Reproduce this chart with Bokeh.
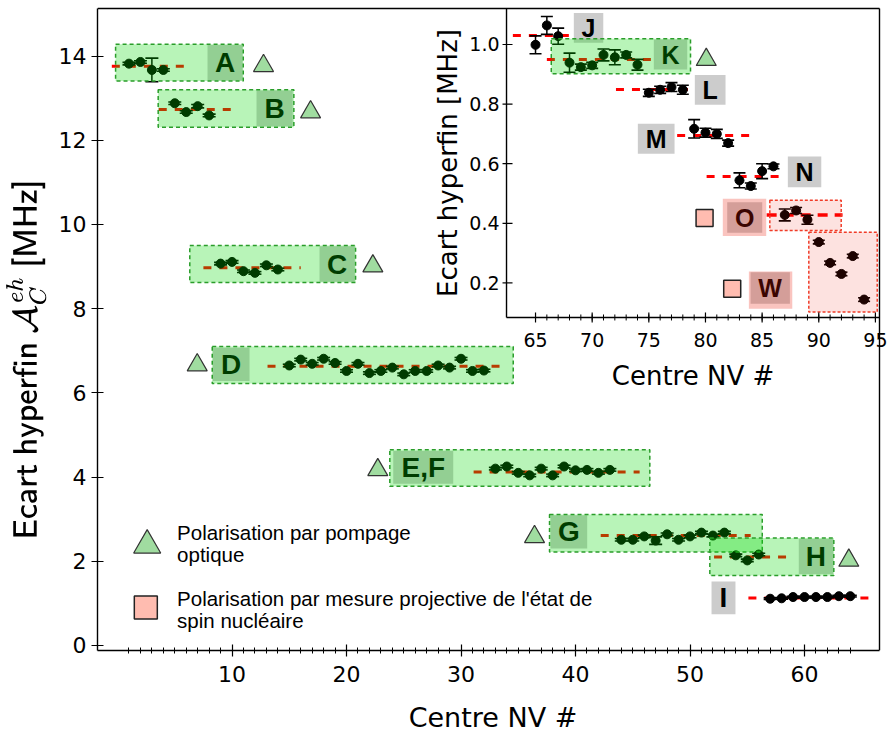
from math import pi
from bokeh.plotting import figure
from bokeh.models import Range1d, FixedTicker, TeX
from bokeh.core.properties import value
from bokeh.embed import file_html
from bokeh.resources import INLINE

# ---------------- main panel data (NV centre #, hyperfine splitting MHz) ----------------
main_labels = ["A", "B", "C", "D", "E,F", "G", "H", "I"]
nv_A = [1, 2, 3, 4]
hf_A = [13.82, 13.86, 13.67, 13.67]
err_A = [0.03, 0.03, 0.28, 0.03]
nv_B = [5, 6, 7, 8]
hf_B = [12.88, 12.67, 12.81, 12.59]
err_B = [0.03, 0.03, 0.04, 0.03]
nv_C = [9, 10, 11, 12, 13, 14]
hf_C = [9.07, 9.11, 8.89, 8.85, 9.03, 8.93]
err_C = [0.03, 0.03, 0.03, 0.03, 0.03, 0.03]
nv_D = list(range(15, 33))
hf_D = [6.65, 6.79, 6.69, 6.81, 6.71, 6.52, 6.69, 6.47, 6.52,
        6.60, 6.44, 6.52, 6.52, 6.65, 6.60, 6.81, 6.52, 6.53]
err_D = [0.03] * 18
nv_EF = list(range(33, 44))
hf_EF = [4.20, 4.25, 4.10, 4.04, 4.20, 4.04, 4.25, 4.16, 4.17, 4.10, 4.17]
err_EF = [0.03] * 11
nv_G = list(range(44, 54))
hf_G = [2.51, 2.51, 2.59, 2.49, 2.64, 2.51, 2.59, 2.68, 2.61, 2.68]
err_G = [0.03, 0.03, 0.03, 0.09, 0.03, 0.03, 0.03, 0.03, 0.03, 0.03]
nv_H = [54, 55, 56]
hf_H = [2.14, 2.02, 2.16]
err_H = [0.03, 0.03, 0.03]
nv_I = list(range(57, 65))
hf_I = [1.11, 1.12, 1.15, 1.15, 1.15, 1.15, 1.17, 1.17]
err_I = [0.02] * 8
mean_main = [13.76, 12.73, 8.97, 6.63, 4.12, 2.61, 2.10, 1.13]

main_xticks = [10, 20, 30, 40, 50, 60]
main_yticks = [0, 2, 4, 6, 8, 10, 12, 14]

# ---------------- inset data ----------------
inset_labels = ["J", "K", "L", "M", "N", "O", "W"]
nv_J = [65, 66, 67]
hf_J = [0.999, 1.064, 1.028]
err_J = [0.030, 0.030, 0.027]
nv_K = [68, 69, 70, 71, 72, 73, 74]
hf_K = [0.939, 0.924, 0.930, 0.965, 0.957, 0.965, 0.932]
err_K = [0.032, 0.010, 0.010, 0.020, 0.025, 0.010, 0.018]
nv_L = [75, 76, 77, 78]
hf_L = [0.838, 0.848, 0.857, 0.848]
err_L = [0.012, 0.012, 0.015, 0.015]
nv_M = [79, 80, 81, 82]
hf_M = [0.717, 0.704, 0.700, 0.669]
err_M = [0.031, 0.015, 0.015, 0.010]
nv_N = [83, 84, 85, 86]
hf_N = [0.544, 0.525, 0.575, 0.591]
err_N = [0.025, 0.010, 0.025, 0.008]
nv_O = [87, 88, 89]
hf_O = [0.428, 0.443, 0.412]
err_O = [0.020, 0.010, 0.015]
nv_W = [90, 91, 92, 93, 94]
hf_W = [0.337, 0.267, 0.230, 0.290, 0.144]
err_W = [0.006, 0.006, 0.006, 0.006, 0.006]
mean_inset = [1.030, 0.950, 0.849, 0.695, 0.557, 0.428]

inset_xticks = [65, 70, 75, 80, 85, 90, 95]
inset_xminor = list(range(65, 96))
inset_yticks = [0.2, 0.4, 0.6, 0.8, 1.0]

legend_texts = ["Polarisation par pompage", "optique",
                "Polarisation par mesure projective de l'état de", "spin nucléaire"]
xlabel = "Centre NV #"
main_ylabel = r"\textsf{Ecart hyperfin }\mathcal{A}_C^{eh}\textsf{ [MHz]}\qquad"
inset_ylabel = "Ecart hyperfin [MHz]"

# ---------------- styles ----------------
GREEN_FILL = "#00d700"
GREEN_ALPHA = 0.28
GREEN_LINE = "#2a9d2a"
PINK_FILL = "#eb1400"
TRI_FILL = "#a0dca0"
SQ_FILL = "#ffbcb0"
GRAY = "#cccccc"
LAB_FONT = value("Liberation Sans")
AX_FONT = "DejaVu Sans"

# main plot box (data coords) and inset box (inset data coords)
MX0, MX1, MY0, MY1 = -1.75, 66.55, -0.12, 15.13
IX0, IX1 = 62.44, 95.36
IY0, IY1 = 0.0839, 1.1208
IPX_X = 11.33   # px per NV unit in inset
IPX_Y = 298.0   # px per MHz in inset


def draw_points(p, nv, hf, err, cap=13, size=9, **kw):
    lo = [h - e for h, e in zip(hf, err)]
    hi = [h + e for h, e in zip(hf, err)]
    p.segment(x0=nv, y0=lo, x1=nv, y1=hi, line_color="black", line_width=1.5, **kw)
    p.scatter(nv, lo, marker="dash", size=cap, line_color="black", line_width=1.6, **kw)
    p.scatter(nv, hi, marker="dash", size=cap, line_color="black", line_width=1.6, **kw)
    p.scatter(nv, hf, marker="circle", size=size, fill_color="black", line_color="black", **kw)


# ================= FIGURE =================
# frame spans to the page's top/right edges so inset tick labels are not clipped;
# the visible box is drawn with its own lines
p = figure(frame_width=791, frame_height=650,
           x_range=Range1d(MX0, 67.336), y_range=Range1d(MY0, 15.32),
           min_border_left=97, min_border_right=0, min_border_top=0, min_border_bottom=88,
           output_backend="svg", toolbar_location=None)
p.extra_x_ranges = {"ix": Range1d(26.34, 96.154)}
p.extra_y_ranges = {"iy": Range1d(-1.0336, 1.1476)}
p.outline_line_color = None
p.background_fill_color = "white"
p.border_fill_color = "white"
p.xgrid.visible = False
p.ygrid.visible = False

p.xaxis.ticker = FixedTicker(ticks=main_xticks, minor_ticks=list(range(1, 65)))
p.yaxis.ticker = FixedTicker(ticks=main_yticks, minor_ticks=[])
p.xaxis.bounds = (MX0, MX1)
p.yaxis.bounds = (MY0, MY1)
p.xaxis.axis_label = xlabel
p.yaxis.axis_label = TeX(main_ylabel)
for ax in (p.xaxis[0], p.yaxis[0]):
    ax.major_label_text_font = AX_FONT
    ax.major_label_text_font_size = "22px"
    ax.major_label_text_color = "black"
    ax.axis_label_text_font = AX_FONT
    ax.axis_label_text_font_size = "27px"
    ax.axis_label_text_font_style = "normal"
    ax.axis_label_text_color = "black"
    ax.axis_line_color = "black"
    ax.axis_line_width = 1.4
    ax.major_tick_line_color = "black"
    ax.major_tick_line_width = 1.2
    ax.minor_tick_line_color = "black"
    ax.minor_tick_line_width = 1.0
p.yaxis.axis_label_text_font_size = "26px"
p.xaxis.major_tick_in = 6
p.xaxis.major_tick_out = 6
p.xaxis.minor_tick_in = 3
p.xaxis.minor_tick_out = 3
p.yaxis.major_tick_in = 6
p.yaxis.major_tick_out = 6
p.xaxis.major_label_standoff = 9
p.xaxis.axis_label_standoff = 17
p.yaxis.major_label_standoff = 5
p.yaxis.axis_label_standoff = 9

main_nv = [nv_A, nv_B, nv_C, nv_D, nv_EF, nv_G, nv_H, nv_I]
main_hf = [hf_A, hf_B, hf_C, hf_D, hf_EF, hf_G, hf_H, hf_I]
main_err = [err_A, err_B, err_C, err_D, err_EF, err_G, err_H, err_I]

# label (gray) boxes and label centres
lab_l = [7.86, 12.14, 17.64, 8.32, 24.08, 37.82, 59.50, 51.88]
lab_r = [10.92, 15.30, 20.72, 11.53, 29.32, 41.02, 62.51, 53.97]
lab_b = [13.42, 12.33, 8.64, 6.28, 3.84, 2.30, 1.70, 0.74]
lab_t = [14.26, 13.18, 9.48, 7.07, 4.62, 3.09, 2.53, 1.52]
lab_x = [9.39, 13.72, 19.18, 9.93, 26.70, 39.42, 61.00, 52.92]
lab_y = [13.84, 12.75, 9.06, 6.67, 4.23, 2.70, 2.11, 1.13]
p.quad(left=lab_l, right=lab_r, bottom=lab_b, top=lab_t, fill_color=GRAY, line_color=None)

dash_x0 = [-0.5, 3.6, 7.5, 13.1, 31.1, 42.2, 52.1, 55.1]
dash_x1 = [5.9, 10.0, 16.0, 34.0, 45.6, 55.3, 58.6, 66.1]
p.segment(x0=dash_x0, y0=mean_main, x1=dash_x1, y1=mean_main,
          line_color="#ff0000", line_width=3, line_dash="8 8")

for nv, hf, er in zip(main_nv, main_hf, main_err):
    draw_points(p, nv, hf, er)

p.text(x=lab_x, y=lab_y, text=main_labels, text_font=LAB_FONT, text_font_style="bold",
       text_font_size="28px", text_align="center", text_baseline="middle", text_color="black")

box_l = [-0.17, 3.55, 6.31, 8.27, 23.78, 37.73, 51.73]
box_r = [10.98, 15.40, 20.79, 34.56, 46.49, 56.31, 62.56]
box_b = [13.41, 12.31, 8.62, 6.22, 3.78, 2.22, 1.66]
box_t = [14.28, 13.20, 9.50, 7.10, 4.65, 3.11, 2.55]
p.quad(left=box_l, right=box_r, bottom=box_b, top=box_t,
       fill_color=GREEN_FILL, fill_alpha=GREEN_ALPHA,
       line_color=GREEN_LINE, line_width=1.5, line_dash="4 3")

tri_x = [12.75, 16.86, 22.30, 6.96, 22.73, 36.42, 63.87]
tri_y = [13.77, 12.67, 9.01, 6.66, 4.17, 2.58, 2.02]
p.scatter(tri_x, tri_y, marker="triangle", size=20, fill_color=TRI_FILL,
          line_color="#333333", line_width=1.2)

# legend
p.scatter([2.59], [2.38], marker="triangle", size=27, fill_color=TRI_FILL,
          line_color="#333333", line_width=1.2)
p.scatter([2.47], [0.90], marker="square", size=23, fill_color=SQ_FILL,
          line_color="#222222", line_width=1.5)
p.text(x=[5.2, 5.2, 5.2, 5.2], y=[2.68, 2.16, 1.12, 0.59], text=legend_texts,
       text_font=LAB_FONT, text_font_size="20.5px", text_align="left",
       text_baseline="alphabetic", text_color="black")

# ================= INSET (drawn with its own ranges) =================
I = dict(x_range_name="ix", y_range_name="iy")

p.quad(left=[IX0], right=[IX1], bottom=[IY0], top=[IY1], fill_color="white",
       line_color=None, **I)

in_lab_l = [68.38, 75.44, 79.06, 74.03, 87.27, 81.92, 83.98]
in_lab_r = [70.98, 78.39, 81.77, 77.27, 90.22, 85.01, 87.45]
in_lab_b = [1.006, 0.916, 0.798, 0.633, 0.521, 0.368, 0.130]
in_lab_t = [1.106, 1.017, 0.898, 0.734, 0.624, 0.471, 0.236]
in_lab_x = [69.68, 76.92, 80.42, 75.65, 88.74, 83.46, 85.70]
in_lab_y = [1.056, 0.966, 0.848, 0.683, 0.573, 0.419, 0.183]
p.quad(left=in_lab_l, right=in_lab_r, bottom=in_lab_b, top=in_lab_t,
       fill_color=GRAY, line_color=None, **I)

in_dash_x0 = [63.0, 66.0, 72.1, 77.5, 80.1, 85.4]
in_dash_x1 = [68.2, 75.3, 78.5, 84.0, 86.6, 92.1]
p.segment(x0=in_dash_x0[:5], y0=mean_inset[:5], x1=in_dash_x1[:5], y1=mean_inset[:5],
          line_color="#ff0000", line_width=3, line_dash="8 8", **I)
p.segment(x0=in_dash_x0[5:], y0=mean_inset[5:], x1=in_dash_x1[5:], y1=mean_inset[5:],
          line_color="#ff0000", line_width=3.5, line_dash="10 7", **I)

for nv, hf, er in zip([nv_J, nv_K, nv_L, nv_M, nv_N, nv_O, nv_W],
                      [hf_J, hf_K, hf_L, hf_M, hf_N, hf_O, hf_W],
                      [err_J, err_K, err_L, err_M, err_N, err_O, err_W]):
    draw_points(p, nv, hf, er, cap=12, size=9, **I)

p.text(x=in_lab_x, y=in_lab_y, text=inset_labels, text_font=LAB_FONT, text_font_style="bold",
       text_font_size="25px", text_align="center", text_baseline="middle",
       text_color="black", **I)

p.quad(left=[66.39], right=[78.68], bottom=[0.902], top=[1.019],
       fill_color=GREEN_FILL, fill_alpha=GREEN_ALPHA,
       line_color=GREEN_LINE, line_width=1.5, line_dash="4 3", **I)
p.quad(left=[81.53, 83.83], right=[85.36, 87.66], bottom=[0.357, 0.113], top=[0.482, 0.238],
       fill_color=PINK_FILL, fill_alpha=0.25, line_color=None, **I)
p.quad(left=[85.68, 89.12], right=[91.98, 95.16], bottom=[0.376, 0.102], top=[0.477, 0.370],
       fill_color=PINK_FILL, fill_alpha=0.12,
       line_color="#f03c28", line_width=1.5, line_dash="3 2", **I)

p.scatter([80.07], [0.949], marker="triangle", size=20, fill_color=TRI_FILL,
          line_color="#333333", line_width=1.2, **I)
p.scatter([79.92, 82.36], [0.418, 0.180], marker="square", size=17, fill_color=SQ_FILL,
          line_color="#222222", line_width=1.5, **I)

# inset axes: lines, ticks, tick labels, titles
p.segment(x0=[IX0, IX0], y0=[IY0, IY0], x1=[IX0, IX1], y1=[IY1, IY0],
          line_color="black", line_width=1.4, **I)
p.segment(x0=inset_xticks, y0=[IY0 - 5 / IPX_Y] * len(inset_xticks),
          x1=inset_xticks, y1=[IY0 + 5 / IPX_Y] * len(inset_xticks),
          line_color="black", line_width=1.2, **I)
p.segment(x0=inset_xminor, y0=[IY0 - 3 / IPX_Y] * len(inset_xminor),
          x1=inset_xminor, y1=[IY0 + 3 / IPX_Y] * len(inset_xminor),
          line_color="black", line_width=1.0, **I)
p.segment(x0=[IX0 - 4 / IPX_X] * len(inset_yticks), y0=inset_yticks,
          x1=[IX0 + 6 / IPX_X] * len(inset_yticks), y1=inset_yticks,
          line_color="black", line_width=1.2, **I)
p.text(x=inset_xticks, y=[IY0] * len(inset_xticks), text=[str(t) for t in inset_xticks],
       y_offset=16, text_font=value(AX_FONT), text_font_size="19px",
       text_align="center", text_baseline="top", text_color="black", **I)
p.text(x=[IX0] * len(inset_yticks), y=inset_yticks, text=[f"{t:.1f}" for t in inset_yticks],
       x_offset=-7, text_font=value(AX_FONT), text_font_size="19px",
       text_align="right", text_baseline="middle", text_color="black", **I)
p.text(x=[(IX0 + IX1) / 2], y=[IY0], text=[xlabel], y_offset=44,
       text_font=value(AX_FONT), text_font_size="26px",
       text_align="center", text_baseline="top", text_color="black", **I)
p.text(x=[IX0], y=[(IY0 + IY1) / 2], text=[inset_ylabel], x_offset=-59, angle=pi / 2,
       text_font=value(AX_FONT), text_font_size="26px",
       text_align="center", text_baseline="middle", text_color="black", **I)

# visible top and right edges of the main box
p.segment(x0=[MX0, MX1], y0=[MY1, MY0], x1=[MX1, MX1], y1=[MY1, MY1],
          line_color="black", line_width=1.4)

open("out.html", "w").write(file_html(p, INLINE))
